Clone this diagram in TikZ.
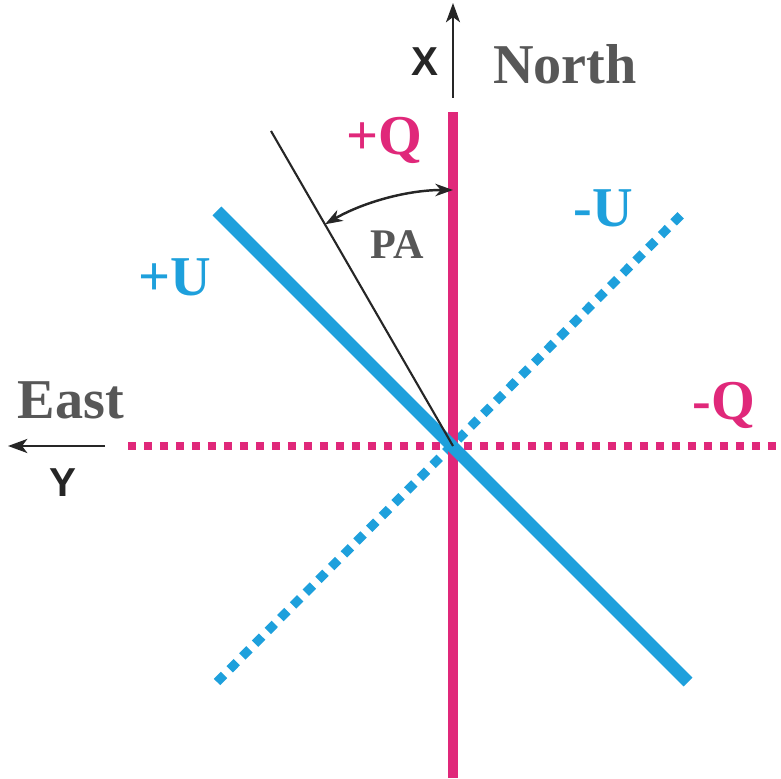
\documentclass[tikz,border=0pt]{standalone}
\usepackage{fontspec}
\setmainfont{Liberation Serif}
\setsansfont{Liberation Sans}
\usepackage{xcolor}
\definecolor{stokesPink}{HTML}{E0287A}
\definecolor{stokesBlue}{HTML}{1EA0DC}
\definecolor{labelGray}{HTML}{575757}
\usepackage{tikz}
\usetikzlibrary{arrows.meta, positioning}

\begin{document}
\begin{tikzpicture}[
		x=0.02cm, y=0.02cm,
		qsolid/.style={draw=stokesPink, line width=0.2cm},
		qdotted/.style={draw=stokesPink, line width=0.16cm, dash pattern=on 0.17cm off 0.15cm},
		usolid/.style={draw=stokesBlue, line width=0.25cm},
		udotted/.style={draw=stokesBlue, line width=0.18cm, dash pattern=on 0.2cm off 0.16cm},
		tip/.style={Stealth[length=11pt, width=8pt, inset=3pt]},
		axis/.style={-{Stealth[length=11pt, width=8pt, inset=3pt]}, line width=1.2pt, draw=black!85},
		biglabel/.style={font=\fontsize{32}{36}\selectfont\bfseries},
		axlabel/.style={font=\fontsize{23}{26}\selectfont\sffamily\bfseries, text=black!85}
		]
		
		\useasboundingbox (0,0) rectangle (781,778);
		
		\coordinate (o) at (453,332);
		\coordinate (qtop) at (453,666);
		\coordinate (qbot) at (453,0);
		\coordinate (qleft) at (128,332);
		\coordinate (qright) at (781,332);
		\coordinate (uptop) at (217,567);
		\coordinate (upbot) at (688,96);
		\coordinate (umbot) at (217,96);
		\coordinate (umtop) at (683,565);
		\coordinate (patop) at (271,647);
		\coordinate (arcstart) at (453,588);
		\coordinate (xfoot) at (453,680);
		\coordinate (xtip) at (453,775);
		\coordinate (yfoot) at (105,332);
		\coordinate (ytip) at (8,332);
		
		\draw[qdotted] (qleft) -- (qright);
		\draw[udotted] (umbot) -- (umtop);
		\draw[qsolid] (qbot) -- (qtop);
		\draw[usolid] (uptop) -- (upbot);
		\draw[line width=1.2pt, draw=black!85] (patop) -- (o);
		\draw[{Stealth[length=10pt, width=7pt, inset=3pt]}-{Stealth[length=10pt, width=7pt, inset=3pt]}, line width=1.4pt, draw=black!85] (arcstart) arc[start angle=90, end angle=120, radius=256];
		
		\draw[axis] (xfoot) -- (xtip);
		\draw[axis] (yfoot) -- (ytip);
		
		\node[biglabel, text=labelGray] (north) at (565,714) {North};
		\node[biglabel, text=labelGray] (east) at (71,378) {East};
		\node[axlabel] (xlab) at (425,716) {X};
		\node[axlabel] (ylab) at (63,295) {Y};
		\node[biglabel, text=stokesPink] (qplus) at (384,638) {+Q};
		\node[biglabel, text=stokesPink] (qminus) at (724,373) {-Q};
		\node[biglabel, text=stokesBlue] (uplus) at (175,501) {+U};
		\node[biglabel, text=stokesBlue] (uminus) at (603,570) {-U};
		\node[font=\fontsize{24}{28}\selectfont\bfseries, text=labelGray] (pa) at (397,533) {PA};
		
	\end{tikzpicture}
\end{document}
